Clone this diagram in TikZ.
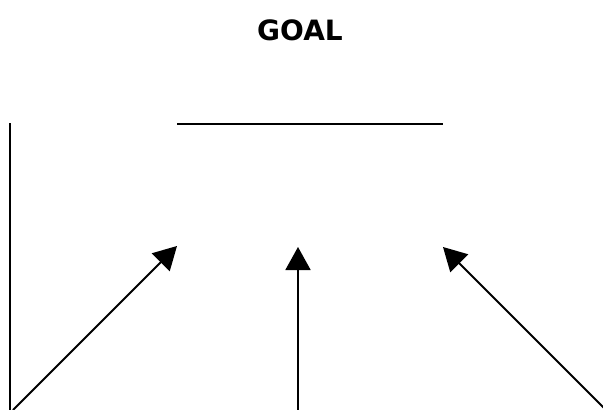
\documentclass[tikz,border=0pt]{standalone}
\usepackage{fontspec}
\setmainfont{DejaVu Sans}
\usetikzlibrary{arrows.meta}
\begin{document}
\begin{tikzpicture}[x=1pt,y=-1pt,
  ln/.style={line width=1.8pt,black},
  arr/.style={ln,-{Triangle[length=23pt,width=25pt]}},
  title/.style={font=\fontsize{28}{32}\selectfont\bfseries,inner sep=0pt}]
\useasboundingbox (0,0) rectangle (603,410);
\node[title] (goal) at (300,30) {GOAL};
\coordinate (hl) at (177,124);
\coordinate (hr) at (443,124);
\coordinate (vt) at (10,123);
\coordinate (vb) at (10,410);
\coordinate (t1) at (177,246);
\coordinate (t2) at (298,247);
\coordinate (t3) at (443,247);
\coordinate (b1) at (13,410);
\coordinate (b2) at (298,410);
\coordinate (b3) at (606,410);
\draw[ln] (hl) -- (hr);
\draw[ln] (vt) -- (vb);
\draw[arr] (b1) -- (t1);
\draw[arr] (b2) -- (t2);
\draw[arr] (b3) -- (t3);
\end{tikzpicture}
\end{document}
